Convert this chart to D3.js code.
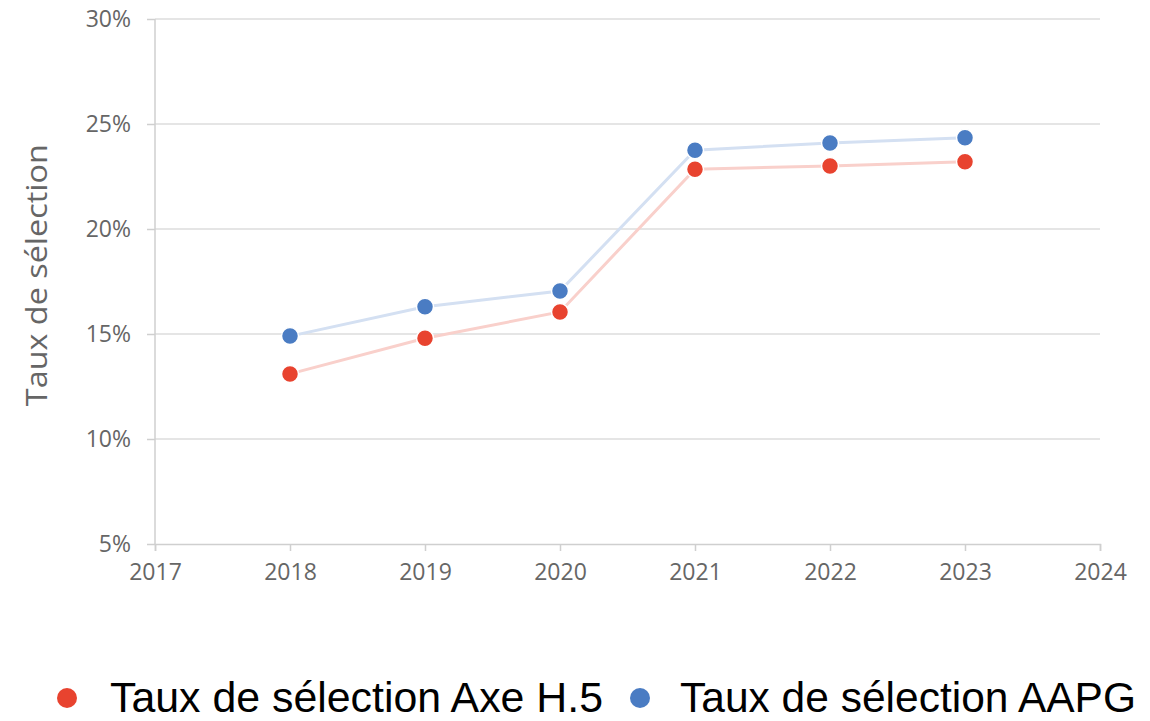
<!DOCTYPE html>
<html><head><meta charset="utf-8">
<script src="https://cdn.jsdelivr.net/npm/d3@7"></script>
<style>body{margin:0;background:#fff;}svg{display:block;}</style>
</head><body>
<svg id="c" width="1150" height="721"></svg>
<script>
const years = [2018, 2019, 2020, 2021, 2022, 2023];
const axeH5 = [13.1, 14.8, 16.05, 22.85, 23.0, 23.2];
const aapg = [14.9, 16.3, 17.05, 23.75, 24.1, 24.35];
const yTicks = [5, 10, 15, 20, 25, 30];
const xTicks = [2017, 2018, 2019, 2020, 2021, 2022, 2023, 2024];
const seriesNames = ["Taux de sélection Axe H.5", "Taux de sélection AAPG"];
const markerColors = ["#e8432f", "#4a7cc3"];
const lineColors = ["#f9d0cb", "#d4e0f2"];

const svg = d3.select("#c");
const x = d3.scaleLinear().domain([2017, 2024]).range([155, 1100]);
const y = d3.scaleLinear().domain([5, 30]).range([544, 19]);
const font = "'Open Sans', Lato, sans-serif";

// gridlines
svg.append("g").selectAll("line").data(yTicks.filter(d => d > 5)).join("line")
  .attr("x1", x(2017)).attr("x2", x(2024)).attr("y1", d => y(d)).attr("y2", d => y(d))
  .attr("stroke", "#dcdcdc").attr("stroke-width", 1.5);

const yAxis = svg.append("g").attr("transform", `translate(${x(2017)},0)`)
  .call(d3.axisLeft(y).tickValues(yTicks).tickFormat(d => d + "%").tickSize(8).tickPadding(16));
const xAxis = svg.append("g").attr("transform", `translate(0,${y(5)})`)
  .call(d3.axisBottom(x).tickValues(xTicks).tickFormat(d3.format("d")).tickSize(7).tickPadding(13));
[yAxis, xAxis].forEach(a => {
  a.selectAll("path, line").attr("stroke", "#cfcfcf").attr("stroke-width", 1.5);
  a.selectAll("text").attr("fill", "#666").style("font-family", font).style("font-size", "23px");
});
yAxis.select(".domain").attr("d", `M0,${y(5)}V${y(30)}`);

svg.append("text").attr("transform", `translate(47,${y(17.8)}) rotate(-90)`)
  .attr("text-anchor", "middle").attr("fill", "#666")
  .style("font-family", font).style("font-size", "29px")
  .attr("textLength", 262).attr("lengthAdjust", "spacingAndGlyphs").text("Taux de sélection");

const series = [axeH5, aapg];
const line = d3.line().x((d, i) => x(years[i])).y(d => y(d));
series.forEach((s, k) => {
  svg.append("path").datum(s).attr("d", line).attr("fill", "none")
    .attr("stroke", lineColors[k]).attr("stroke-width", 3);
});
series.forEach((s, k) => {
  svg.append("g").selectAll("circle").data(s).join("circle")
    .attr("cx", (d, i) => x(years[i])).attr("cy", d => y(d)).attr("r", 8.5)
    .attr("fill", markerColors[k]).attr("stroke", "#fff").attr("stroke-width", 1.5);
});

// legend
const legX = [67, 640];
const legText = [110, 680];
seriesNames.forEach((n, k) => {
  svg.append("circle").attr("cx", legX[k]).attr("cy", 698).attr("r", 10).attr("fill", markerColors[k]);
  svg.append("text").attr("x", legText[k]).attr("y", 712)
    .attr("fill", "#000").style("font-family", "'Liberation Sans Narrow', 'Liberation Sans', sans-serif")
    .style("font-size", "42px").attr("textLength", k === 0 ? 493 : 456).attr("lengthAdjust", "spacingAndGlyphs")
    .text(n);
});
</script>
</body></html>
